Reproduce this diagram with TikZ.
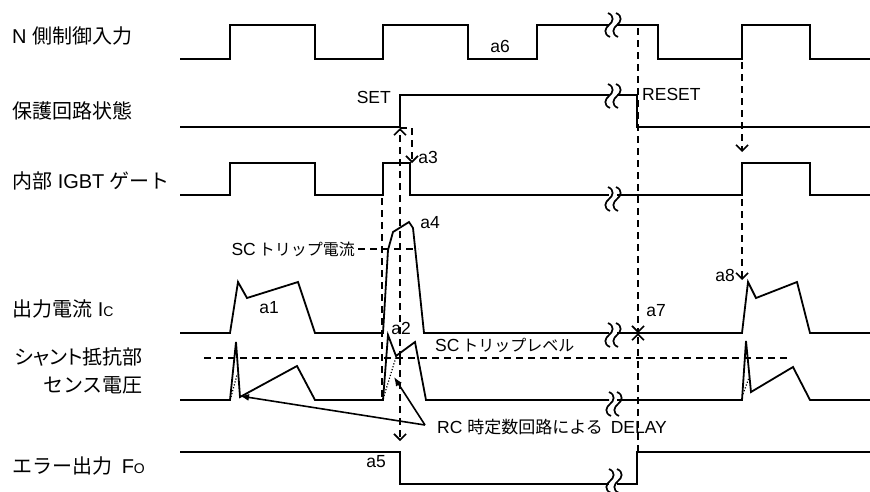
\documentclass[tikz,border=0pt]{standalone}
\usepackage{fontspec}
\setmainfont{Liberation Sans}
\newfontfamily\jp{Noto Sans CJK JP}
\newfontfamily\jpp[RawFeature=+palt]{Noto Sans CJK JP}
\newcommand\jps{\jp\fontsize{16}{19}\selectfont}
\usetikzlibrary{arrows.meta}
\tikzset{
  sig/.style={line width=1.8pt},
  dsh/.style={line width=1.6pt, dash pattern=on 7pt off 5pt},
  barb/.style={-{Straight Barb[length=6pt,width=12pt,line width=1.6pt]}},
  rcarr/.style={line width=1.6pt, -{Latex[length=9pt,width=7pt]}},
  dotl/.style={line width=1.2pt, dash pattern=on 1.2pt off 1.8pt},
  lab/.style={font=\fontsize{20}{24}\selectfont, inner sep=0pt},
  ann/.style={font=\fontsize{17.5}{20}\selectfont, inner sep=0pt},
  brk/.pic={
    \draw[line width=1.7pt] (-5,-12) .. controls (2,-9) and (0,-3) .. (-4,0) .. controls (-8,3) and (-10,9) .. (-3,12);
    \draw[line width=1.7pt] (3,-12) .. controls (10,-9) and (8,-3) .. (4,0) .. controls (0,3) and (-2,9) .. (5,12);
  }
}
\begin{document}
\begin{tikzpicture}[x=1pt,y=-1pt]
\useasboundingbox (0,0) rectangle (870,491);

% ---------- left labels
\node[lab, anchor=west] (tN) at (12,36) {N {\jp 側制御入力}};
\node[lab, anchor=west] (tP) at (12,111) {\jp 保護回路状態};
\node[lab, anchor=west] (tG) at (12,181) {{\jp 内部} IGBT {\jp ゲート}};
\node[lab, anchor=west] (tI) at (12,309) {{\jp 出力電流} I{\fontsize{14}{14}\selectfont C}};
\node[lab, anchor=east] (tS1) at (143,357) {\jpp シャント抵抗部};
\node[lab, anchor=east] (tS2) at (143,385) {\jp センス電圧};
\node[lab, anchor=west] (tF) at (12,466) {{\jp エラー出力}\hspace{4pt} F{\fontsize{14}{14}\selectfont O}};

% ---------- row 1: N input
\draw[sig] (180,59) -- (230,59) -- (230,25) -- (315,25) -- (315,59) -- (383,59) -- (383,25)
  -- (468,25) -- (468,59) -- (537,59) -- (537,25) -- (609,25);
\draw[sig] (617,25) -- (658,25) -- (658,59) -- (742,59) -- (742,25) -- (810,25) -- (810,59) -- (870,59);
\pic at (613,25) {brk};

% ---------- row 2: protection state
\draw[sig] (180,127) -- (400,127) -- (400,95) -- (609,95);
\draw[sig] (617,95) -- (637,95) -- (637,127) -- (870,127);
\pic at (613,96) {brk};

% ---------- row 3: IGBT gate
\draw[sig] (180,195) -- (230,195) -- (230,163) -- (315,163) -- (315,195) -- (383,195) -- (383,163)
  -- (410,163) -- (410,195) -- (609,195);
\draw[sig] (617,195) -- (742,195) -- (742,163) -- (810,163) -- (810,195) -- (870,195);
\pic at (613,199) {brk};

% ---------- row 4: output current
\draw[sig] (180,333) -- (230,333) -- (238,282) -- (247,298) -- (298,282) -- (315,333) -- (383,333)
  -- (388,250) -- (393,232) -- (409,222) -- (413,228) -- (424,333) -- (609,333);
\draw[sig] (617,333) -- (742,333) -- (748,282) -- (756,298) -- (797,282) -- (810,333) -- (870,333);
\pic at (613,335) {brk};

% ---------- row 5: shunt sense voltage
\draw[sig] (180,400) -- (230,400) -- (236,342) -- (240,397) -- (297,366) -- (315,400) -- (383,400)
  -- (388,335) -- (396,356) -- (415,342) -- (426,400) -- (609,400);
\draw[sig] (617,400) -- (742,400) -- (746,341) -- (751,392) -- (793,367) -- (810,400) -- (870,400);
\pic at (614,404) {brk};
\draw[dotl] (231,397) -- (237,375);
\draw[dotl] (384,396) -- (396,357);
\draw[dotl] (743,394) -- (750,375);

% ---------- row 6: error output
\draw[sig] (180,452) -- (400,452) -- (400,484) -- (609,484);
\draw[sig] (617,484) -- (637,484) -- (637,452) -- (870,452);
\pic at (614,481) {brk};

% ---------- annotation texts
\node[ann, anchor=east] (tSET) at (391,97) {SET};
\node[ann, anchor=west] (tRESET) at (642,94) {RESET};
\node[ann] (a1) at (269,308) {a1};
\node[ann] (a2) at (401,328) {a2};
\node[ann] (a3) at (428,157) {a3};
\node[ann] (a4) at (430,223) {a4};
\node[ann] (a5) at (376,462) {a5};
\node[ann] (a6) at (500,46) {a6};
\node[ann] (a7) at (656,311) {a7};
\node[ann] (a8) at (725,275) {a8};
\node[ann, anchor=east] (tSCI) at (355,249) {SC\,{\jps トリップ電流}};
\node[ann, anchor=west] (tSCL) at (435,345) {SC\,{\jps トリップレベル}};
\node[ann, anchor=west] (tRC) at (437,427) {RC {\jp\fontsize{17}{20}\selectfont 時定数回路による}\hspace{8pt}DELAY};

% ---------- reference levels
\draw[dsh] (358,249) -- (418,249);
\draw[dsh] (204,358) -- (787,358);

% ---------- named points for connectors
\coordinate (cross) at (400,358);
\coordinate (setlo) at (400,128);
\coordinate (fohi) at (400,441);
\coordinate (a3c) at (412,128);
\coordinate (a3t) at (412,163);
\coordinate (gon) at (382,198);
\coordinate (gonb) at (382,399);
\coordinate (rstTop) at (638,28);
\coordinate (xpt) at (638,333);
\coordinate (foRise) at (638,452);
\coordinate (nRise) at (742,62);
\coordinate (gRise) at (742,152);
\coordinate (gLow) at (742,199);
\coordinate (icRise) at (742,280);
\coordinate (rcFrom) at (425,425);
\coordinate (rcT1) at (240,396);
\coordinate (rcT2) at (394,377);

% ---------- dashed connectors
\draw[dsh] (gon) -- (gonb);
\draw[dsh, barb] (cross) -- (setlo);
\draw[dsh, barb] (cross) -- (fohi);
\draw[dsh, barb] (setlo) -- (a3c) -- (a3t);
\draw[dsh, barb] (rstTop) -- (xpt);
\draw[dsh, barb] (foRise) -- (xpt);
\draw[dsh, barb] (nRise) -- (gRise);
\draw[dsh, barb] (gLow) -- (icRise);

% ---------- RC delay pointers
\draw[rcarr] (rcFrom) -- (rcT1);
\draw[rcarr] (rcFrom) -- (rcT2);
\end{tikzpicture}
\end{document}
